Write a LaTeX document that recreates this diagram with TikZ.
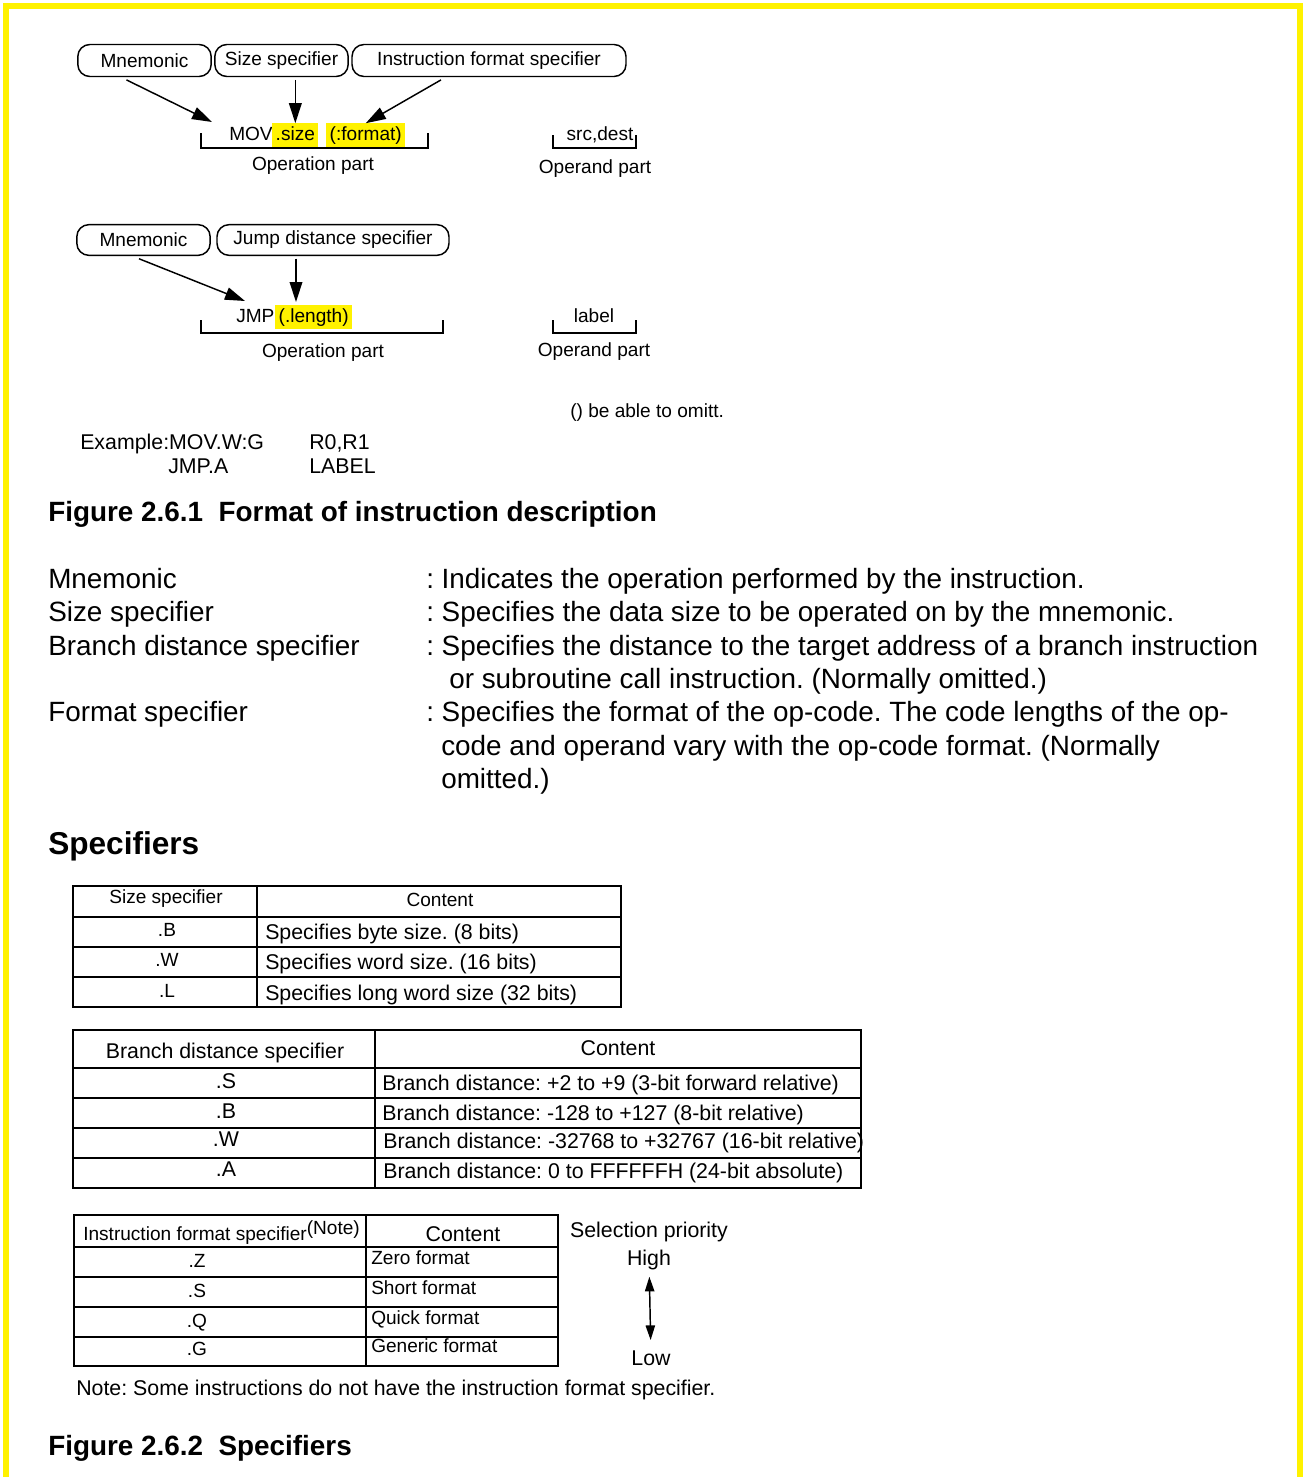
\documentclass[tikz,border=0pt]{standalone}
\usepackage{fontspec}
\setmainfont{Liberation Sans}
\usetikzlibrary{arrows.meta}
\frenchspacing
\newcommand{\figsz}{\fontsize{14.3}{17}\selectfont}
\newcommand{\tabsz}{\fontsize{16}{19}\selectfont}
\newcommand{\descsz}{\fontsize{20.9}{25}\selectfont}
\newcommand{\capsz}{\fontsize{20.9}{25}\selectfont\bfseries}
\newcommand{\headsz}{\fontsize{23.7}{28}\selectfont\bfseries}
\tikzset{
  specbox/.style={draw, line width=1.1pt, rounded corners=9pt, minimum height=24pt, inner sep=0pt, font=\figsz},
  hilite/.style={fill=yellow, inner xsep=2.6pt, inner ysep=1.9pt, text height=10.5pt, text depth=3pt, font=\figsz},
  txt/.style={inner sep=0pt, anchor=base, font=\figsz},
  ttxt/.style={inner sep=0pt, anchor=base, font=\tabsz},
  desc/.style={inner sep=0pt, anchor=base west, font=\descsz},
  pointer/.style={-{Triangle[length=15pt,width=9.5pt]}, line width=1.1pt},
  brk/.style={line width=1.1pt},
  outer/.style={line width=2.2pt},
  inner/.style={line width=1.4pt}
}
\begin{document}
\begin{tikzpicture}[x=0.75pt,y=-0.75pt]
\useasboundingbox (0,0) rectangle (1304,1477);
% frame
\draw[yellow, line width=4.5pt] (6,1490) -- (6,6) -- (1300,6) -- (1300,1490);

% MOV format
\node[specbox, minimum width=100pt] (mn1) at (144.5,60.5) {Mnemonic};
\node[specbox, minimum width=100pt] (sz1) at (281.5,60.5) {Size specifier};
\node[specbox, minimum width=205.5pt] (fm1) at (489,60.5) {Instruction format specifier};
\node[txt, anchor=base west] (mov) at (229,140) {MOV};
\node[hilite, anchor=base west] (size) at (272,140) {.size};
\node[hilite, anchor=base west] (format) at (326,140) {(:format)};
\coordinate (movtip) at (212,122);
\draw[pointer] ([xshift=-13.5pt,yshift=-2pt]mn1.south) -- (movtip);
\draw[pointer] ([yshift=-2pt]sz1.south -| size.north) -- (size.north);
\draw[pointer] ([xshift=-36pt,yshift=-2pt]fm1.south) -- (format.north);
\draw[brk] (201,133) |- (428,148) -- (428,133);
\node[txt] (op1) at (313,170) {Operation part};
\node[txt] (sd1) at (600,140) {src,dest};
\draw[brk] (553,135) |- (636,148) -- (636,135);
\node[txt] (od1) at (595,173) {Operand part};

% JMP format
\node[specbox, minimum width=100pt, minimum height=23pt] (mn2) at (143.5,240) {Mnemonic};
\node[specbox, minimum width=174pt, minimum height=23pt] (jd2) at (333,240) {Jump distance specifier};
\node[txt, anchor=base west] (jmp) at (236,322) {JMP};
\node[hilite, anchor=base west] (length) at (275,322) {(.length)};
\coordinate (jmptip) at (245,301);
\coordinate (lentip) at (296,302);
\draw[pointer] ([xshift=-3.4pt,yshift=-2pt]mn2.south) -- (jmptip);
\draw[pointer] ([yshift=-2pt]jd2.south -| lentip) -- (lentip);
\draw[brk] (201,320) |- (443,333) -- (443,320);
\node[txt] (op2) at (323,357) {Operation part};
\node[txt] (lb2) at (594,322) {label};
\draw[brk] (553,320) |- (636,333) -- (636,320);
\node[txt] (od2) at (594,356) {Operand part};

\node[txt, anchor=base west] (omit) at (570,417) {() be able to omitt.};
\node[ttxt, anchor=base west] (ex1) at (80,449) {Example:MOV.W:G};
\node[ttxt, anchor=base west] (ex1b) at (309,449) {R0,R1};
\node[ttxt, anchor=base west] (ex2) at (168,473) {JMP.A};
\node[ttxt, anchor=base west] (ex2b) at (309,473) {LABEL};
\node[inner sep=0pt, anchor=base west, font=\capsz] (cap1) at (48,521) {Figure 2.6.1\ \ Format of instruction description};

% descriptions
\foreach \t/\y [count=\i] in {Mnemonic/588, Size specifier/621, Branch distance specifier/655, Format specifier/721}
  \node[desc] (dl\i) at (48,\y) {\t};
\node[desc] (dr1) at (426,588) {: Indicates the operation performed by the instruction.};
\node[desc] (dr2) at (426,621) {: Specifies the data size to be operated on by the mnemonic.};
\node[desc] (dr3) at (426,655) {: Specifies the distance to the target address of a branch instruction};
\node[desc] (dr3b) at (449,688) {or subroutine call instruction. (Normally omitted.)};
\node[desc] (dr4) at (426,721) {: Specifies the format of the op-code. The code lengths of the op-};
\node[desc] (dr4b) at (441,755) {code and operand vary with the op-code format. (Normally};
\node[desc] (dr4c) at (441,788) {omitted.)};

\node[inner sep=0pt, anchor=base west, font=\headsz] (spec) at (48,854) {Specifiers};

% size specifier table
\draw[inner] foreach \y in {917,947,977} {(73,\y) -- (621,\y)};
\draw[outer] (257,886) -- (257,1007);
\draw[outer] (73,886) rectangle (621,1007);
\node[txt] (t1h1) at (166,903) {Size specifier};
\node[txt] (t1h2) at (440,906) {Content};
\foreach \k/\c/\y [count=\i] in {.B/Specifies byte size. (8 bits)/936, .W/Specifies word size. (16 bits)/966, .L/Specifies long word size (32 bits)/997} {
  \node[txt] (t1k\i) at (167,\y) {\k};
  \node[ttxt, anchor=base west] (t1c\i) at (265,\y+3) {\c};
}

% branch distance table
\draw[inner] foreach \y in {1068,1098,1128,1158} {(73,\y) -- (861,\y)};
\draw[inner] (375,1030) -- (375,1188);
\draw[outer] (73,1030) rectangle (861,1188);
\node[ttxt] (t2h1) at (225,1058) {Branch distance specifier};
\node[ttxt] (t2h2) at (618,1055) {Content};
\foreach \k/\c/\y/\x [count=\i] in {.S/Branch distance: +2 to +9 (3-bit forward relative)/1088/382, .B/Branch distance: -128 to +127 (8-bit relative)/1118/382, .W/Branch distance: -32768 to +32767 (16-bit relative)/1146/383, .A/Branch distance: 0 to FFFFFFH (24-bit absolute)/1176/383} {
  \node[ttxt] (t2k\i) at (226,\y) {\k};
  \node[ttxt, anchor=base west] (t2c\i) at (\x,\y+2) {\c};
}

% instruction format table
\draw[inner] foreach \y in {1247,1277,1307,1337} {(74,\y) -- (558,\y)};
\draw[inner] (366,1215) -- (366,1366);
\draw[outer] (74,1215) rectangle (558,1366);
\node[txt, anchor=base west] (t3h1) at (83,1240) {Instruction format specifier\raisebox{4.5pt}{(Note)}};
\node[ttxt] (t3h2) at (463,1241) {Content};
\foreach \k/\c/\y [count=\i] in {.Z/Zero format/1267, .S/Short format/1297, .Q/Quick format/1327, .G/Generic format/1355} {
  \node[txt] (t3k\i) at (197,\y) {\k};
  \node[txt, anchor=base west] (t3c\i) at (371,\y-3) {\c};
}
\node[ttxt] (prio) at (649,1237) {Selection priority};
\node[ttxt] (high) at (649,1265) {High};
\node[ttxt] (low) at (651,1365) {Low};
\draw[{Triangle[length=11pt,width=7pt]}-{Triangle[length=11pt,width=7pt]}, line width=1.1pt, shorten <=5.25pt, shorten >=7.5pt] (high) -- (low);
\node[ttxt, anchor=base west] (note) at (76,1395) {Note: Some instructions do not have the instruction format specifier.};
\node[inner sep=0pt, anchor=base west, font=\capsz] (cap2) at (48,1455) {Figure 2.6.2\ \ Specifiers};
\end{tikzpicture}
\end{document}
